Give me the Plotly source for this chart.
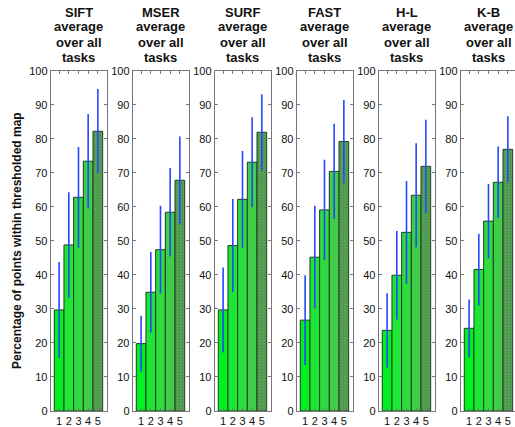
import plotly.graph_objects as go

categories = [1, 2, 3, 4, 5]
tick_labels = ["1", "2", "3", "4", "5"]
detectors = ["SIFT", "MSER", "SURF", "FAST", "H-L", "K-B"]

sift_mean = [29.7, 48.8, 62.8, 73.4, 82.2]
sift_std = [14.1, 15.5, 14.8, 13.9, 12.4]
mser_mean = [19.8, 34.9, 47.4, 58.4, 67.8]
mser_std = [8.2, 11.8, 12.9, 13.0, 12.9]
surf_mean = [29.7, 48.6, 62.2, 73.1, 81.9]
surf_std = [12.5, 13.7, 14.2, 13.2, 11.2]
fast_mean = [26.7, 45.2, 59.1, 70.4, 79.2]
fast_std = [13.2, 15.1, 14.7, 14.0, 12.2]
hl_mean = [23.7, 39.9, 52.5, 63.4, 71.9]
hl_std = [10.9, 13.0, 15.1, 15.3, 13.7]
kb_mean = [24.3, 41.6, 55.8, 67.2, 76.9]
kb_std = [8.5, 10.5, 10.9, 10.5, 9.7]

means = [sift_mean, mser_mean, surf_mean, fast_mean, hl_mean, kb_mean]
stds = [sift_std, mser_std, surf_std, fast_std, hl_std, kb_std]

y_ticks = list(range(0, 101, 10))

W, H = 515, 427
bar_colors = ["#00f020", "#1ee634", "#30db42", "#40ce4a", "#56ac56"]
patterns = ["", "", "", "", "."]

fig = go.Figure()
FONT = "Liberation Sans, Arial, sans-serif"
px_per_unit = 9.68
lefts = [50.7, 132.7, 214.7, 296.7, 378.7, 460.7]
y0_px, y1_px = 70.7, 411.0
ydom = [(H - y1_px) / H, (H - y0_px) / H]

for i, name in enumerate(detectors):
    n = "" if i == 0 else str(i + 1)
    left = lefts[i]
    right = min(left + 56.0, W)
    width_px = right - left
    r0 = 0.13
    r1 = r0 + width_px / px_per_unit
    fig.add_trace(go.Bar(
        x=categories, y=means[i], width=1.0,
        marker=dict(color=bar_colors, line=dict(color="#1e401e", width=1),
                    pattern=dict(shape=patterns, fgcolor="#2e6e2e",
                                 size=3, solidity=0.3, fillmode="overlay")),
        error_y=dict(type="data", array=stds[i], color="#2448ff", thickness=1.6, width=0),
        xaxis="x" + n, yaxis="y" + n, showlegend=False, hoverinfo="skip",
    ))
    fig.layout["xaxis" + n] = dict(
        domain=[left / W, right / W], range=[r0, r1], tickmode="array",
        tickvals=categories, ticktext=tick_labels, ticks="inside", ticklen=3,
        tickcolor="#777", showline=True, linecolor="#777", linewidth=1,
        mirror="allticks", showgrid=False, zeroline=False,
        anchor="y" + n, tickfont=dict(family=FONT, size=11, color="#111"),
        automargin=False, fixedrange=True,
    )
    fig.layout["yaxis" + n] = dict(
        domain=ydom, range=[0, 100], tickmode="array", tickvals=y_ticks,
        ticks="inside", ticklen=3, tickcolor="#777", showline=True, linecolor="#777",
        linewidth=1, mirror="allticks" if i < 5 else False, showgrid=False, zeroline=False,
        anchor="x" + n, tickfont=dict(family=FONT, size=11, color="#111"),
        automargin=False, fixedrange=True,
    )
    cx = (left + 28.0) / W
    for j, line in enumerate([name, "average", "over all", "tasks"]):
        fig.add_annotation(
            text="<b>" + line + "</b>", x=cx, y=(H - (12 + 15 * j)) / H,
            xref="paper", yref="paper", xanchor="center", yanchor="middle",
            showarrow=False, font=dict(family=FONT, size=13, color="#111"),
        )

fig.add_annotation(
    text="<b>Percentage of points within thresholded map</b>",
    x=17 / W, y=(H - 241) / H, xref="paper", yref="paper",
    xanchor="center", yanchor="middle", textangle=-90, showarrow=False,
    font=dict(family=FONT, size=12, color="#111"),
)

fig.update_layout(
    width=W, height=H, margin=dict(l=0, r=0, t=0, b=0),
    paper_bgcolor="white", plot_bgcolor="white", bargap=0,
)
fig.write_html(
    "out.html",
    config={"displayModeBar": False, "staticPlot": True},
    post_script="document.body.style.margin='0';document.body.style.overflow='hidden';",
)
